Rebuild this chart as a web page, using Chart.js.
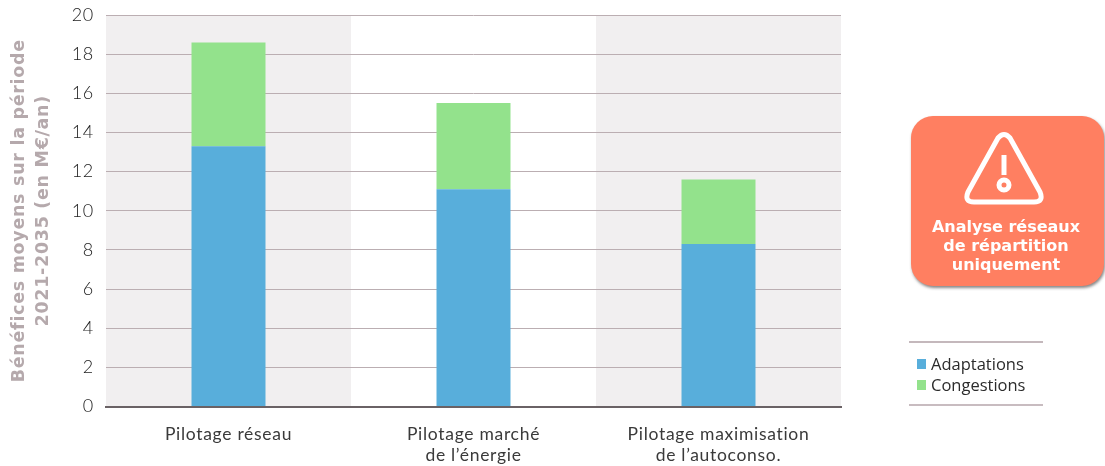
<!DOCTYPE html>
<html lang="fr">
<head>
<meta charset="utf-8">
<title>Bénéfices moyens</title>
<script src="https://cdn.jsdelivr.net/npm/chart.js@4"></script>
<style>
  html, body { margin: 0; padding: 0; background: #fff; }
  #stage { position: relative; width: 1105px; height: 466px; overflow: hidden; }
  canvas { position: absolute; left: 0; top: 0; }
  #badge {
    position: absolute; left: 911px; top: 116px; width: 193px; height: 170px;
    background: #ff7f61; border-radius: 22px;
    box-shadow: 1px 2px 3px rgba(70,70,70,.65);
    color: #fff; text-align: center;
    font: bold 16px/19px "DejaVu Sans", sans-serif;
  }
  #badge svg { position: absolute; left: 53px; top: 15px; }
  #badge div { position: absolute; left: 0; right: 3px; top: 101px; }
  #legend {
    position: absolute; left: 909px; top: 341px; width: 134px; height: 65px;
    border-top: 2px solid #c4b8bc; border-bottom: 2px solid #c8bcc0;
    box-sizing: border-box;
    font: 16.5px/21px "Open Sans", sans-serif; color: #2b2b2b;
  }
  #legend div { position: absolute; left: 22px; white-space: nowrap; }
  #legend i { position: absolute; left: -14px; top: 6px; width: 9px; height: 10px; }
</style>
</head>
<body>
<div id="stage">
  <canvas id="chart" width="1105" height="466"></canvas>
  <div id="badge">
    <svg width="80" height="76" viewBox="0 0 80 76" fill="none" stroke="#fff" stroke-width="5">
      <path stroke-linejoin="round" d="M34 7 Q40 0 46 7 L76 61 Q80 71 70 71 L10 71 Q0 71 4 61 Z"/>
      <path d="M40 24 V44"/>
      <circle cx="40" cy="54" r="5"/>
    </svg>
    <div>Analyse réseaux<br>de répartition<br>uniquement</div>
  </div>
  <div id="legend"></div>
</div>
<script>
  const categories = ['Pilotage réseau', ['Pilotage marché', 'de l’énergie'], ['Pilotage maximisation', 'de l’autoconso.']];
  const adaptations = [13.3, 11.1, 8.3];
  const congestions = [5.3, 4.4, 3.3];
  const yTitle = ['Bénéfices moyens sur la période', '2021-2035 (en M€/an)'];
  const shadedColumns = [0, 2];

  // Alternate columns get a pale background behind the bars;
  // axis text is also spaced out slightly here.
  const columnBands = {
    id: 'columnBands',
    beforeDraw(chart) {
      const { ctx, chartArea: a, scales: { x } } = chart;
      const w = a.width / categories.length;
      ctx.letterSpacing = '0.7px';
      ctx.save();
      ctx.fillStyle = '#f1eff0';
      shadedColumns.forEach(i => {
        ctx.fillRect(x.getPixelForValue(i) - w / 2, a.top, w, a.height);
      });
      ctx.restore();
    }
  };

  const chart = new Chart(document.getElementById('chart'), {
    type: 'bar',
    data: {
      labels: categories,
      datasets: [
        { label: 'Adaptations', data: adaptations, backgroundColor: '#58aedb', barPercentage: 0.604, categoryPercentage: 0.5 },
        { label: 'Congestions', data: congestions, backgroundColor: '#93e28c', barPercentage: 0.604, categoryPercentage: 0.5 }
      ]
    },
    options: {
      responsive: false,
      animation: false,
      layout: { padding: { left: 0, right: 264, top: 15, bottom: 0 } },
      plugins: { legend: { display: false }, tooltip: { enabled: false } },
      scales: {
        x: {
          stacked: true,
          afterFit(s) { s.height = 59.5; s.paddingLeft = 0; s.paddingRight = 0; },
          grid: { display: false },
          border: { color: '#6a6265', width: 2 },
          ticks: { color: '#3a3a3a', font: { family: 'Lato', size: 17.5, weight: 400, lineHeight: 1.2 }, padding: 9, maxRotation: 0, autoSkip: false }
        },
        y: {
          stacked: true,
          min: 0, max: 20,
          afterFit(s) { s.width = 106; s.paddingTop = 0; s.paddingBottom = 0; },
          border: { display: false },
          grid: {
            color: c => c.tick.value === 0 ? 'rgba(0,0,0,0)' : '#bbaeb2',
            lineWidth: 1,
            drawTicks: false
          },
          ticks: { stepSize: 2, color: '#222', font: { family: 'Lato', size: 18, weight: 300 }, padding: 12 },
          title: {
            display: true, text: yTitle, color: '#b5a9ac',
            font: { family: 'DejaVu Sans', size: 17.5, weight: 'bold', lineHeight: 1.38 },
            padding: { top: 7, bottom: 0 }
          }
        }
      }
    },
    plugins: [columnBands]
  });

  // Legend entries come straight from the chart's datasets.
  const legend = document.getElementById('legend');
  chart.data.datasets.forEach((ds, i) => {
    const row = document.createElement('div');
    row.style.top = (10 + i * 21) + 'px';
    row.innerHTML = '<i style="background:' + ds.backgroundColor + '"></i>' + ds.label;
    legend.appendChild(row);
  });
</script>
</body>
</html>
